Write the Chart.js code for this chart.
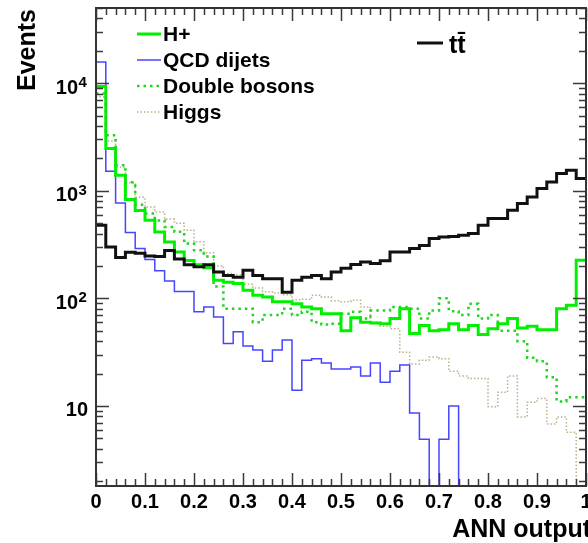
<!DOCTYPE html>
<html><head><meta charset="utf-8">
<script src="https://cdn.jsdelivr.net/npm/chart.js@4/dist/chart.umd.min.js"></script>
<style>html,body{margin:0;padding:0;background:#fff;}#wrap{width:588px;height:543px;}</style>
</head><body><div id="wrap"><canvas id="c" width="588" height="543"></canvas></div>
<script>
// ---- data ----
const binEdges = [0,0.02,0.04,0.06,0.08,0.1,0.12,0.14,0.16,0.18,0.2,0.22,0.24,0.26,0.28,0.3,0.32,0.34,0.36,0.38,0.4,0.42,0.44,0.46,0.48,0.5,0.52,0.54,0.56,0.58,0.6,0.62,0.64,0.66,0.68,0.7,0.72,0.74,0.76,0.78,0.8,0.82,0.84,0.86,0.88,0.9,0.92,0.94,0.96,0.98,1.0];
const seriesNames = ['H+', 'QCD dijets', 'Double bosons', 'Higgs', 'tt\u0304'];
const hPlus = [9300,2470,1393,830,655,532,414,334,270,225,205,192,147,141,137,119,107,103,93,93,89,83,80,72,72,50,66,60,59,58,65,80,47,56,50,51,58,51,56,46,52,58,65,53,55,51,51,80,86,226];
const qcdDijets = [15700,1520,770,410,290,230,180,145,116,116,75,83,67,38,49,36,33,26,33,41,14,26.5,27.5,25,22,22,23,19,25,16.6,21,24,8.6,4.9,0,4.9,10,0,0,0,0,0,0,0,0,0,0,0,0,0];
const doubleBosons = [8000,3280,1727,1200,740,614,530,460,415,323,280,245,129,80,80,80,60,70,70,80,70,75,60,57,58,72,75,65,77,77,83,83,80,65,77,100,76,70,89,65,70,50,50,40,28,26,18.5,11,12,12];
const higgs = [7500,2900,1650,1190,870,706,635,545,500,430,335,265,200,170,165,135,125,115,112,108,97,98,107,103,95,93,96,83,60,55,52,31.5,24.5,26.5,28.5,27.5,21,19,18,18,9.8,13.4,19,7.9,10.8,11.7,6.8,7.9,5.7,0];
const ttbar = [478,300,240,268,262,248,245,278,232,205,197,205,176,163,157,182,163,152,152,114,147,157,163,152,176,190,206,218,211,223,270,270,290,310,359,372,376,385,400,478,551,551,659,760,877,1048,1208,1444,1552,1300];
const xTickValues = [0,0.1,0.2,0.3,0.4,0.5,0.6,0.7,0.8,0.9,1];
const xTickLabels = ['0','0.1','0.2','0.3','0.4','0.5','0.6','0.7','0.8','0.9','1'];
const yTickValues = [10,100,1000,10000];
const yTickBase = ['10','10','10','10'];
const yTickExp = ['','2','3','4'];
const xTitle = 'ANN output';
const yTitle = 'Events';
const yMin = 1.8, yMax = 50000;

// ---- styles ----
const FONT = "'Liberation Sans', Arial, Helvetica, sans-serif";
const styles = [
  {color:'#00f000', width:3, dash:[]},          // H+
  {color:'#4646ff', width:1.5, dash:[]},        // QCD
  {color:'#22d422', width:2.5, dash:[2.5,4]},   // Double bosons
  {color:'#bdb08c', width:1.5, dash:[1.5,2]},   // Higgs
  {color:'#111111', width:3, dash:[]}           // ttbar
];
const drawOrder = [2, 4, 1, 3, 0]; // smaller = on top

function histPoints(vals){
  const pts = vals.map((v,i)=>({x:binEdges[i], y: v>0 ? v : yMin}));
  pts.push({x:binEdges[vals.length], y: pts[pts.length-1].y});
  return pts;
}
const series = [hPlus, qcdDijets, doubleBosons, higgs, ttbar];
const datasets = series.map((vals,k)=>({
  label: seriesNames[k],
  data: histPoints(vals),
  borderColor: styles[k].color,
  borderWidth: styles[k].width,
  borderDash: styles[k].dash,
  stepped: 'before',
  pointRadius: 0,
  fill: false,
  tension: 0,
  clip: false,
  order: drawOrder[k]
}));

const rootAxes = {
  id:'rootAxes',
  afterDatasetsDraw(chart){
    const {ctx, chartArea:a, scales:{x,y}} = chart;
    ctx.save();
    ctx.setLineDash([]);
    // ticks
    ctx.strokeStyle = '#3a3a3a';
    ctx.lineWidth = 1.5;
    ctx.beginPath();
    for (let i=0;i<=50;i++){
      const v = binEdges[i];
      const px = Math.round(x.getPixelForValue(v))+0.5;
      const len = xTickValues.some(t=>Math.abs(t-v)<1e-9) ? 13 : 7;
      ctx.moveTo(px, a.bottom); ctx.lineTo(px, a.bottom-len);
      ctx.moveTo(px, a.top); ctx.lineTo(px, a.top+len);
    }
    for (let d=0; d<=4; d++){
      for (let m=1; m<=9; m++){
        const v = m*Math.pow(10,d);
        if (v<yMin || v>yMax) continue;
        const py = Math.round(y.getPixelForValue(v))+0.5;
        const len = m===1 ? 13 : 7;
        ctx.moveTo(a.left, py); ctx.lineTo(a.left+len, py);
        ctx.moveTo(a.right, py); ctx.lineTo(a.right-len, py);
      }
    }
    ctx.stroke();
    // frame
    ctx.lineWidth = 2;
    ctx.strokeStyle = '#333';
    ctx.strokeRect(a.left, a.top, a.right-a.left, a.bottom-a.top);
    // x tick labels
    ctx.fillStyle = '#000';
    ctx.font = 'bold 20px '+FONT;
    ctx.textAlign = 'center'; ctx.textBaseline = 'alphabetic';
    xTickValues.forEach((v,i)=>{
      ctx.fillText(xTickLabels[i], x.getPixelForValue(v), a.bottom+22);
    });
    // y tick labels
    yTickValues.forEach((v,i)=>{
      const py = y.getPixelForValue(v);
      const e = yTickExp[i];
      ctx.textAlign = 'right';
      ctx.font = 'bold 20px '+FONT;
      ctx.fillText(yTickBase[i], e ? 78 : 88, py+10.5);
      if (e){
        ctx.textAlign = 'left';
        ctx.font = 'bold 15px '+FONT;
        ctx.fillText(e, 78.5, py+4);
      }
    });
    // axis titles
    ctx.font = 'bold 25px '+FONT;
    ctx.textAlign = 'right';
    ctx.fillText(xTitle, 591, 537);
    ctx.save();
    ctx.translate(35, 9);
    ctx.rotate(-Math.PI/2);
    ctx.textAlign = 'right';
    ctx.fillText(yTitle, 0, 0);
    ctx.restore();
    // legend 1 (first four series)
    ctx.font = 'bold 21px '+FONT;
    ctx.textAlign = 'left';
    for (let k=0;k<4;k++){
      const ly = 34 + 26*k;
      ctx.strokeStyle = styles[k].color;
      ctx.lineWidth = styles[k].width;
      ctx.setLineDash(styles[k].dash);
      ctx.beginPath(); ctx.moveTo(137, ly); ctx.lineTo(161, ly); ctx.stroke();
      ctx.fillText(seriesNames[k], 163, ly+7);
    }
    // legend 2 (ttbar)
    ctx.strokeStyle = styles[4].color;
    ctx.lineWidth = styles[4].width;
    ctx.setLineDash([]);
    ctx.beginPath(); ctx.moveTo(417, 43); ctx.lineTo(443, 43); ctx.stroke();
    ctx.font = 'bold 25px '+FONT;
    ctx.fillText(seriesNames[4], 449, 53);
    ctx.restore();
  }
};

new Chart(document.getElementById('c'), {
  type:'line',
  data:{datasets},
  options:{
    responsive:false,
    devicePixelRatio:1,
    animation:false,
    layout:{padding:{left:96, right:2, top:8, bottom:57}},
    plugins:{legend:{display:false}, tooltip:{enabled:false}},
    scales:{
      x:{type:'linear', min:0, max:1, display:false},
      y:{type:'logarithmic', min:yMin, max:yMax, display:false}
    }
  },
  plugins:[rootAxes]
});
</script></body></html>
